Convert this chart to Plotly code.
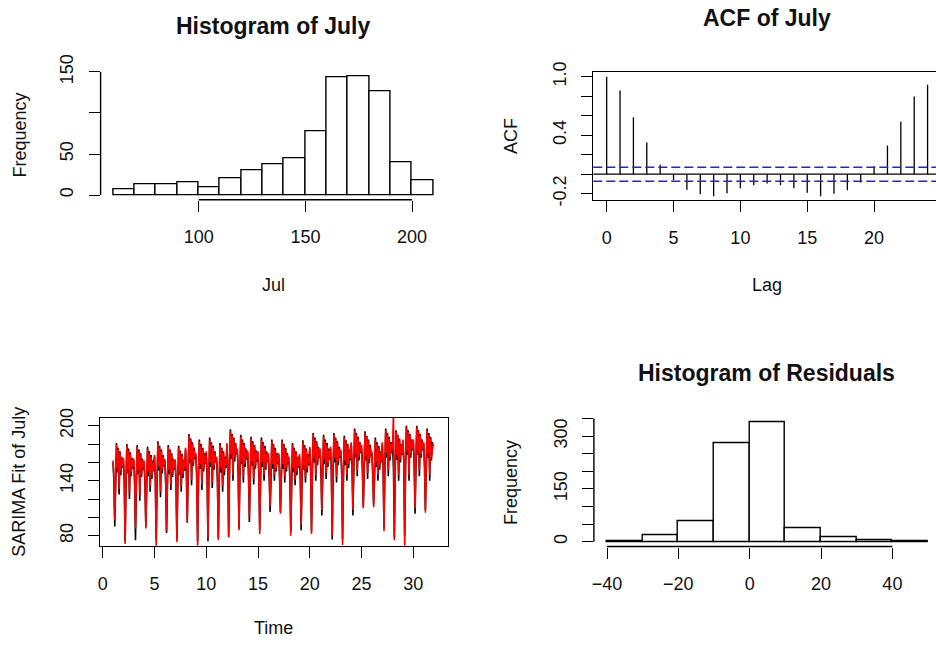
import plotly.graph_objects as go

W, H = 936, 645
FONT = "Liberation Sans, Arial, sans-serif"

# ---------------- Panel 1: Histogram of July ----------------
JUL_BREAKS = [60, 70, 80, 90, 100, 110, 120, 130, 140, 150, 160, 170, 180, 190, 200, 210]
JUL_COUNTS = [7, 13, 13, 15, 9, 20, 30, 38, 45, 78, 143, 145, 127, 40, 18]
P1_XTICKS = [100, 150, 200]
P1_YTICKS = [0, 50, 100, 150]
P1_YTEXT = ["0", "50", "", "150"]

# ---------------- Panel 2: ACF of July ----------------
ACF_LAGS = list(range(25))
ACF_VALUES = [1.0, 0.858, 0.585, 0.325, 0.096, -0.062, -0.16, -0.205, -0.226, -0.195,
              -0.144, -0.113, -0.096, -0.113, -0.144, -0.19, -0.226, -0.2, -0.164, -0.085,
              0.082, 0.294, 0.537, 0.797, 0.916]
ACF_CI = 0.072
P2_XTICKS = [0, 5, 10, 15, 20]
P2_YTICKS = [-0.2, 0.0, 0.2, 0.4, 0.6, 0.8, 1.0]
P2_YTEXT = ["-0.2", "", "", "0.4", "", "", "1.0"]

# ---------------- Panel 3: SARIMA fit (12 samples per day, days 1..31) ----------------
TS_START = 1
TS_PER_DAY = 12
JULY_ACTUAL = [
    160, 139, 90, 134, 181, 149, 176, 125, 172, 146, 166, 154,
    163, 138, 74, 133, 180, 148, 175, 120, 171, 145, 165, 153,
    162, 137, 75, 132, 179, 147, 174, 118, 170, 144, 164, 152,
    160, 135, 90, 130, 177, 145, 172, 128, 168, 142, 162, 150,
    166, 141, 75, 136, 183, 151, 178, 122, 174, 148, 168, 156,
    162, 137, 83, 132, 179, 147, 174, 130, 170, 144, 164, 152,
    161, 136, 76, 131, 178, 146, 173, 128, 169, 143, 163, 151,
    174, 149, 95, 144, 191, 159, 186, 135, 182, 156, 176, 164,
    168, 143, 74, 138, 185, 153, 180, 130, 176, 150, 170, 158,
    170, 145, 74, 140, 187, 155, 182, 132, 178, 152, 172, 160,
    164, 139, 78, 134, 181, 149, 176, 128, 172, 146, 166, 154,
    179, 154, 79, 149, 196, 164, 191, 140, 187, 161, 181, 169,
    173, 148, 88, 143, 190, 158, 185, 138, 181, 155, 175, 163,
    171, 146, 95, 141, 188, 156, 183, 136, 179, 153, 173, 161,
    170, 145, 86, 140, 187, 155, 182, 140, 178, 152, 172, 160,
    168, 143, 106, 138, 185, 153, 180, 140, 176, 150, 170, 158,
    168, 143, 106, 138, 185, 153, 180, 138, 176, 150, 170, 158,
    164, 139, 84, 134, 181, 149, 176, 135, 172, 146, 166, 154,
    167, 142, 86, 137, 184, 152, 179, 138, 175, 149, 169, 157,
    175, 150, 85, 145, 192, 160, 187, 140, 183, 157, 177, 165,
    173, 148, 102, 143, 190, 158, 185, 142, 181, 155, 175, 163,
    175, 150, 76, 145, 192, 160, 187, 138, 183, 157, 177, 165,
    172, 147, 76, 142, 189, 157, 184, 140, 180, 154, 174, 162,
    180, 155, 102, 150, 197, 165, 192, 145, 188, 162, 182, 170,
    177, 152, 112, 147, 194, 162, 189, 142, 185, 159, 179, 167,
    170, 145, 114, 140, 187, 155, 182, 140, 178, 152, 172, 160,
    180, 155, 88, 150, 197, 165, 192, 145, 188, 162, 182, 170,
    178, 153, 78, 148, 195, 163, 190, 140, 186, 160, 180, 168,
    183, 158, 80, 153, 200, 168, 195, 140, 191, 165, 185, 173,
    183, 158, 104, 153, 200, 168, 195, 145, 191, 165, 185, 173,
    180, 155, 108, 150, 197, 165, 192, 140, 188, 162, 182, 178,
]
JULY_FITTED = [
    162, 146, 97, 144, 179, 154, 174, 131, 170, 150, 164, 156,
    165, 145, 71, 143, 178, 153, 173, 126, 169, 149, 163, 155,
    164, 144, 88, 142, 177, 152, 172, 124, 168, 148, 162, 154,
    162, 142, 88, 140, 175, 150, 170, 134, 166, 146, 160, 152,
    168, 148, 66, 146, 181, 156, 176, 128, 172, 152, 166, 158,
    164, 144, 85, 142, 177, 152, 172, 136, 168, 148, 162, 154,
    163, 143, 73, 141, 176, 151, 171, 134, 167, 147, 161, 153,
    176, 156, 94, 154, 189, 164, 184, 141, 180, 160, 174, 166,
    170, 150, 66, 148, 183, 158, 178, 136, 174, 154, 168, 160,
    172, 152, 78, 150, 185, 160, 180, 138, 176, 156, 170, 162,
    166, 146, 75, 144, 179, 154, 174, 134, 170, 150, 164, 156,
    181, 161, 78, 159, 194, 169, 189, 146, 185, 165, 179, 171,
    175, 155, 86, 153, 188, 163, 183, 144, 179, 159, 173, 165,
    173, 153, 100, 151, 186, 161, 181, 142, 177, 157, 171, 163,
    172, 152, 82, 150, 185, 160, 180, 146, 176, 156, 170, 162,
    170, 150, 112, 148, 183, 158, 178, 146, 174, 154, 168, 160,
    170, 150, 104, 148, 183, 158, 178, 144, 174, 154, 168, 160,
    166, 146, 80, 144, 179, 154, 174, 141, 170, 150, 164, 156,
    169, 149, 92, 147, 182, 157, 177, 144, 173, 153, 167, 159,
    177, 157, 82, 155, 190, 165, 185, 146, 181, 161, 175, 167,
    175, 155, 108, 153, 188, 163, 183, 148, 179, 159, 173, 165,
    177, 157, 80, 155, 190, 165, 185, 144, 181, 161, 175, 167,
    174, 154, 70, 152, 187, 162, 182, 146, 178, 158, 172, 164,
    182, 162, 108, 160, 195, 170, 190, 151, 186, 166, 180, 172,
    179, 159, 110, 157, 192, 167, 187, 148, 183, 163, 177, 169,
    172, 152, 111, 150, 185, 160, 180, 146, 176, 156, 170, 162,
    182, 162, 85, 160, 195, 170, 190, 151, 186, 166, 180, 172,
    180, 215, 75, 158, 193, 168, 188, 146, 184, 164, 178, 170,
    185, 165, 62, 163, 198, 173, 193, 146, 189, 169, 183, 175,
    185, 165, 110, 163, 198, 173, 193, 151, 189, 169, 183, 175,
    182, 162, 105, 160, 195, 170, 190, 146, 186, 166, 172, 180,
]
P3_XTICKS = [0, 5, 10, 15, 20, 25, 30]
P3_YTICKS = [80, 100, 120, 140, 160, 180, 200]
P3_YTEXT = ["80", "", "", "140", "", "", "200"]

# ---------------- Panel 4: Histogram of Residuals ----------------
RES_BREAKS = [-40, -30, -20, -10, 0, 10, 20, 30, 40, 50]
RES_COUNTS = [1, 19, 57, 279, 340, 39, 14, 5, 1]
P4_XTICKS = [-40, -20, 0, 20, 40]
P4_YTICKS = [0, 50, 100, 150, 200, 250, 300, 350]
P4_YTEXT = ["0", "", "", "150", "", "", "300", ""]

LW = 1.4
BLACK = "#000000"


def mids(b):
    return [(b[i] + b[i + 1]) / 2 for i in range(len(b) - 1)]


def widths(b):
    return [b[i + 1] - b[i] for i in range(len(b) - 1)]


fig = go.Figure()

# Panel 1 bars
fig.add_trace(go.Bar(x=mids(JUL_BREAKS), y=JUL_COUNTS, width=widths(JUL_BREAKS),
                     marker=dict(color="white", line=dict(color=BLACK, width=LW)),
                     xaxis="x", yaxis="y", showlegend=False, hoverinfo="skip"))

# Panel 2 spikes
sx, sy = [], []
for lag, v in zip(ACF_LAGS, ACF_VALUES):
    sx += [lag, lag, None]
    sy += [0, v, None]
fig.add_trace(go.Scatter(x=sx, y=sy, mode="lines", line=dict(color=BLACK, width=1.3),
                         xaxis="x2", yaxis="y2", showlegend=False, hoverinfo="skip"))

# Panel 3 series
tx = [TS_START + i / TS_PER_DAY for i in range(len(JULY_ACTUAL))]
fig.add_trace(go.Scatter(x=tx, y=JULY_ACTUAL, mode="lines", line=dict(color=BLACK, width=1.6),
                         xaxis="x3", yaxis="y3", showlegend=False, hoverinfo="skip"))
fig.add_trace(go.Scatter(x=tx, y=JULY_FITTED, mode="lines", line=dict(color="#FF0000", width=1.6),
                         xaxis="x3", yaxis="y3", showlegend=False, hoverinfo="skip"))

# Panel 4 bars
fig.add_trace(go.Bar(x=mids(RES_BREAKS), y=RES_COUNTS, width=widths(RES_BREAKS),
                     marker=dict(color="white", line=dict(color=BLACK, width=LW)),
                     xaxis="x4", yaxis="y4", showlegend=False, hoverinfo="skip"))


def dx(p0, p1):
    return [p0 / W, min(1.0, p1 / W)]


def dy(top, bottom):
    return [1 - bottom / H, 1 - top / H]


tickfont = dict(family=FONT, size=18, color="#111111")
common = dict(ticks="outside", ticklen=11, tickwidth=LW, tickcolor=BLACK, showgrid=False,
              zeroline=False, tickfont=tickfont, linecolor=BLACK, linewidth=LW, fixedrange=True,
              automargin=False)

layout = dict(
    width=W, height=H, margin=dict(l=0, r=0, t=0, b=0, pad=0, autoexpand=False),
    paper_bgcolor="white", plot_bgcolor="white", showlegend=False,
    bargap=0,
    xaxis=dict(domain=dx(100.6, 446.2), range=[54, 216], anchor="y", tickvals=P1_XTICKS,
               showline=False, ticklabelstandoff=10, **common),
    yaxis=dict(domain=dy(71.3, 199.8), range=[-5.8, 150.8], anchor="x", tickvals=P1_YTICKS,
               ticktext=P1_YTEXT, tickangle=-90, showline=False, ticklabelstandoff=8, **common),
    xaxis2=dict(domain=dx(593.3, 940.4), range=[-1.0, 24.63], anchor="y2", tickvals=P2_XTICKS,
                showline=True, mirror=True, ticklabelstandoff=10, **common),
    yaxis2=dict(domain=dy(72, 200), range=[-0.265, 1.048], anchor="x2", tickvals=P2_YTICKS,
                ticktext=P2_YTEXT, tickangle=-90, showline=True, mirror=False,
                ticklabelstandoff=8, **common),
    xaxis3=dict(domain=dx(100, 447.7), range=[-0.26, 33.32], anchor="y3", tickvals=P3_XTICKS,
                showline=True, mirror=True, ticklabelstandoff=10, **common),
    yaxis3=dict(domain=dy(417.7, 545.7), range=[69.1, 208.7], anchor="x3", tickvals=P3_YTICKS,
                ticktext=P3_YTEXT, tickangle=-90, showline=True, mirror=True,
                ticklabelstandoff=8, **common),
    xaxis4=dict(domain=dx(593.9, 940.9), range=[-43.68, 52.23], anchor="y4", tickvals=P4_XTICKS,
                showline=False, ticklabelstandoff=10, **common),
    yaxis4=dict(domain=dy(417.2, 546.5), range=[-13.6, 353.6], anchor="x4", tickvals=P4_YTICKS,
                ticktext=P4_YTEXT, tickangle=-90, showline=False, ticklabelstandoff=8, **common),
)

line = dict(color=BLACK, width=LW)
shapes = [
    # R-style partial axis lines
    dict(type="line", xref="x domain", yref="y", x0=0, x1=0, y0=P1_YTICKS[0], y1=P1_YTICKS[-1], line=line),
    dict(type="line", xref="x", yref="y domain", x0=P1_XTICKS[0], x1=P1_XTICKS[-1], y0=0, y1=0, line=line),
    dict(type="line", xref="x4 domain", yref="y4", x0=0, x1=0, y0=P4_YTICKS[0], y1=P4_YTICKS[-1], line=line),
    dict(type="line", xref="x4", yref="y4 domain", x0=P4_XTICKS[0], x1=P4_XTICKS[-1], y0=0, y1=0, line=line),
    # ACF zero line and confidence bounds
    dict(type="line", xref="x2 domain", yref="y2", x0=0, x1=1, y0=0, y1=0, line=dict(color=BLACK, width=1.3)),
    dict(type="line", xref="x2 domain", yref="y2", x0=0, x1=1, y0=ACF_CI, y1=ACF_CI,
         line=dict(color="#2b2ba0", width=1.5, dash="9px,4px")),
    dict(type="line", xref="x2 domain", yref="y2", x0=0, x1=1, y0=-ACF_CI, y1=-ACF_CI,
         line=dict(color="#2b2ba0", width=1.5, dash="9px,4px")),
]
layout["shapes"] = shapes


def ann(text, px, py, size=18, angle=0, bold=False):
    return dict(text=f"<b>{text}</b>" if bold else text, x=px / W, y=1 - py / H,
                xref="paper", yref="paper", xanchor="center", yanchor="middle",
                showarrow=False, textangle=angle,
                font=dict(family=FONT, size=size, color="#111111"))


layout["annotations"] = [
    ann("Histogram of July", 273.4, 26, size=23, bold=True),
    ann("Jul", 273.4, 285),
    ann("Frequency", 19, 135.5, angle=-90),
    ann("ACF of July", 766.9, 18, size=23, bold=True),
    ann("Lag", 766.9, 285),
    ann("ACF", 511, 136, angle=-90),
    ann("SARIMA Fit of July", 19, 481.7, angle=-90),
    ann("Time", 273.8, 628),
    ann("Histogram of Residuals", 766.9, 373, size=23, bold=True),
    ann("Frequency", 511, 482, angle=-90),
]

fig.update_layout(**layout)
fig.write_html("out.html")
